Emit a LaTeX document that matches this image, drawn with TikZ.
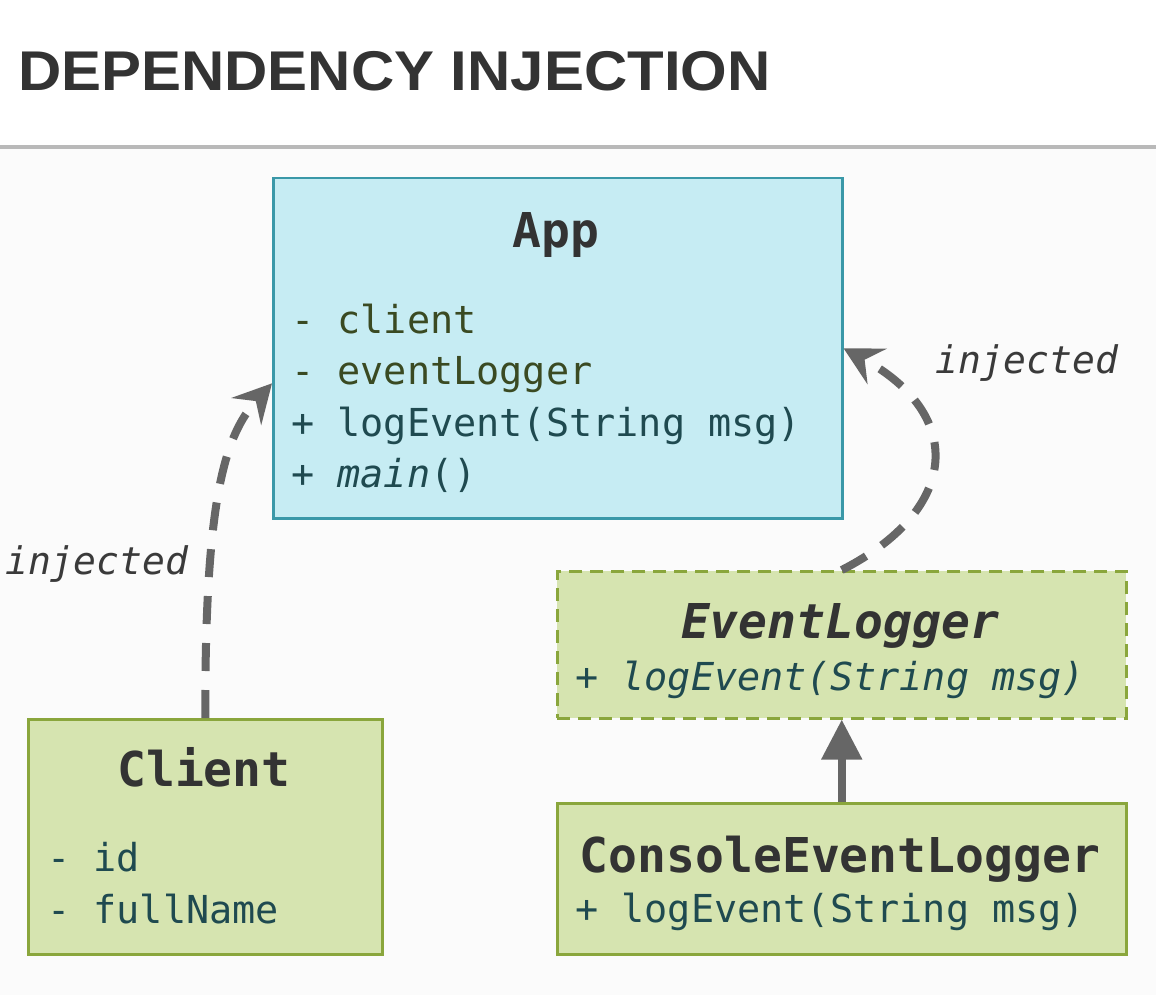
\documentclass[tikz,border=0pt]{standalone}
\usepackage{fontspec}
\setmonofont{DejaVu Sans Mono}
\newfontfamily\titlefont[FakeStretch=1.07]{Liberation Sans}
\usetikzlibrary{arrows.meta}

\definecolor{appfill}{HTML}{C6ECF3}
\definecolor{appline}{HTML}{3A98A8}
\definecolor{clsfill}{HTML}{D6E4B0}
\definecolor{clsline}{HTML}{8AA63C}
\definecolor{attrtext}{HTML}{3A4A22}
\definecolor{optext}{HTML}{1F4A50}
\definecolor{headtext}{HTML}{333333}
\definecolor{notetext}{HTML}{3A3A3A}
\definecolor{wire}{HTML}{666666}

\begin{document}
\begin{tikzpicture}[x=1pt,y=-1pt,
    box/.style={rectangle, anchor=north west, inner sep=0pt, line width=2.5pt},
    appbox/.style={box, draw=appline, fill=appfill},
    greenbox/.style={box, draw=clsline, fill=clsfill},
    classname/.style={anchor=base, inner sep=0pt, text=headtext,
      font=\ttfamily\bfseries\fontsize{48}{48}\selectfont},
    member/.style={anchor=base west, inner sep=0pt,
      font=\ttfamily\fontsize{38.5}{38.5}\selectfont},
    note/.style={anchor=base west, inner sep=0pt, text=notetext,
      font=\ttfamily\itshape\fontsize{38}{38}\selectfont},
    dep/.style={draw=wire, line width=8pt, dash pattern=on 28pt off 19pt,
      -{Stealth[length=38pt,width=40pt,inset=14pt]}},
    inherit/.style={draw=wire, line width=8pt,
      -{Triangle[length=40pt,width=39pt]}}]
  \useasboundingbox (0,0) rectangle (1156,995);
  \fill[white] (0,0) rectangle (1156,148);
  \fill[gray!3] (0,148) rectangle (1156,995);
  \draw[gray!55, line width=4pt] (0,147) -- (1156,147);
  \node[anchor=base west, inner sep=0pt, text=headtext,
        font=\titlefont\bfseries\fontsize{56}{56}\selectfont]
        (title) at (18,91) {DEPENDENCY INJECTION};

  % classes
  \node[appbox, minimum width=569pt, minimum height=340pt] (app) at (272,177) {};
  \node[classname] (appname) at (556,247) {App};
  \node[member, text=attrtext] (appclient) at (291,333) {- client};
  \node[member, text=attrtext] (applogger) at (291,384) {- eventLogger};
  \node[member, text=optext] (applog) at (291,436) {+ logEvent(String msg)};
  \node[member, text=optext] (appmain) at (291,487) {+ \textit{main}()};

  \node[greenbox, minimum width=354pt, minimum height=235pt] (client) at (27,718) {};
  \node[classname] (clientname) at (204,786) {Client};
  \node[member, text=optext] (clientid) at (47,871) {- id};
  \node[member, text=optext] (clientfull) at (47,923) {- fullName};

  \node[greenbox, dash pattern=on 13pt off 8pt, minimum width=569pt,
        minimum height=147pt] (evl) at (556,570) {};
  \node[classname, font=\ttfamily\bfseries\itshape\fontsize{48}{48}\selectfont]
        (evlname) at (840,638) {EventLogger};
  \node[member, text=optext, font=\ttfamily\itshape\fontsize{38.5}{38.5}\selectfont]
        (evllog) at (575,690) {+ logEvent(String msg)};

  \node[greenbox, minimum width=569pt, minimum height=151pt] (console) at (556,802) {};
  \node[classname] (consolename) at (840,872) {ConsoleEventLogger};
  \node[member, text=optext] (consolelog) at (575,922) {+ logEvent(String msg)};

  % connectors
  \draw[dep] (client.north) .. controls (205,500) and (224,436) .. (app.187);
  \draw[dep] (evl.north) .. controls (961,509) and (965,414) .. (app.east);
  \draw[inherit] (console.north) -- (evl.south);

  \node[note] (leftnote) at (5,574) {injected};
  \node[note] (rightnote) at (935,373) {injected};
\end{tikzpicture}
\end{document}
